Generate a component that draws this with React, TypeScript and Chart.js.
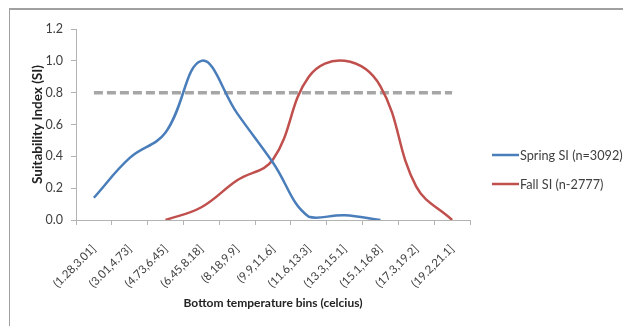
import React, { useEffect, useRef } from "react";
import { Chart, registerables } from "chart.js";

Chart.register(...registerables);

const categories = [
  "(1.28,3.01]",
  "(3.01,4.73]",
  "(4.73,6.45]",
  "(6.45,8.18]",
  "(8.18,9.9]",
  "(9.9,11.6]",
  "(11.6,13.3]",
  "(13.3,15.1]",
  "(15.1,16.8]",
  "(17.3,19.2]",
  "(19.2,21.1]",
];

const springSI = [0.14, 0.39, 0.55, 1.0, 0.67, 0.36, 0.02, 0.03, 0.0, null, null];
const fallSI = [null, null, 0.0, 0.08, 0.25, 0.38, 0.9, 1.0, 0.84, 0.21, 0.0];
const threshold = [0.8, 0.8, 0.8, 0.8, 0.8, 0.8, 0.8, 0.8, 0.8, 0.8, 0.8];

const springLabel = "Spring SI (n=3092)";
const fallLabel = "Fall SI (n-2777)";

const BLUE = "#4a7ebb";
const RED = "#c0504d";
const FONT = "Lato, 'Open Sans', sans-serif";
const TEXT = "#404040";

const legendPlugin = {
  id: "customLegend",
  afterDraw(chart: any) {
    const ctx = chart.ctx;
    const items = [
      { label: springLabel, color: BLUE, y: 155 },
      { label: fallLabel, color: RED, y: 184 },
    ];
    ctx.save();
    ctx.font = `12.7px ${FONT}`;
    ctx.textBaseline = "middle";
    ctx.textAlign = "left";
    for (const it of items) {
      ctx.strokeStyle = it.color;
      ctx.lineWidth = 2.5;
      ctx.beginPath();
      ctx.moveTo(492, it.y);
      ctx.lineTo(519, it.y);
      ctx.stroke();
      ctx.fillStyle = TEXT;
      ctx.fillText(it.label, 520, it.y + 1);
    }
    ctx.restore();
  },
};

export default function App() {
  const ref = useRef<HTMLCanvasElement | null>(null);

  useEffect(() => {
    if (!ref.current) return;
    const chart = new Chart(ref.current, {
      type: "line",
      data: {
        labels: categories,
        datasets: [
          {
            label: springLabel,
            data: springSI,
            borderColor: BLUE,
            backgroundColor: BLUE,
            borderWidth: 2.5,
            pointRadius: 0,
            tension: 0.4,
            spanGaps: false,
          },
          {
            label: fallLabel,
            data: fallSI,
            borderColor: RED,
            backgroundColor: RED,
            borderWidth: 2.5,
            pointRadius: 0,
            tension: 0.4,
          },
          {
            label: "Threshold",
            data: threshold,
            borderColor: "#a6a6a6",
            backgroundColor: "#a6a6a6",
            borderWidth: 3.5,
            borderDash: [9, 4],
            pointRadius: 0,
            tension: 0,
          },
        ],
      },
      options: {
        animation: false,
        responsive: false,
        maintainAspectRatio: false,
        layout: { padding: { left: 10, top: 29, right: 153, bottom: 10 } },
        plugins: {
          legend: { display: false },
          tooltip: { enabled: false },
        },
        scales: {
          x: {
            type: "category",
            offset: true,
            grid: {
              offset: true,
              drawOnChartArea: false,
              drawTicks: true,
              tickLength: 5,
              color: "#b3b3b3",
            },
            border: { color: "#b3b3b3", width: 1 },
            ticks: {
              minRotation: 45,
              maxRotation: 45,
              autoSkip: false,
              padding: 17,
              color: TEXT,
              font: { family: FONT, size: 11.5 },
            },
            title: {
              display: true,
              text: "Bottom temperature bins (celcius)",
              color: "#222",
              font: { family: FONT, size: 12, weight: "bold" },
              padding: { top: 4, bottom: 6 },
            },
            afterFit(scale: any) {
              scale.height = 96;
            },
          },
          y: {
            min: 0,
            max: 1.2,
            grid: {
              drawOnChartArea: false,
              drawTicks: true,
              tickLength: 5,
              color: "#b3b3b3",
            },
            border: { color: "#b3b3b3", width: 1 },
            ticks: {
              stepSize: 0.2,
              padding: 8,
              color: TEXT,
              font: { family: FONT, size: 12.5 },
              callback: (v: any) => Number(v).toFixed(1),
            },
            title: {
              display: true,
              text: "Suitability Index (SI)",
              color: "#222",
              font: { family: FONT, size: 13.5, weight: "bold" },
              padding: { top: 20, bottom: 0 },
            },
            afterFit(scale: any) {
              scale.width = 66;
            },
          },
        },
      },
      plugins: [legendPlugin],
    });
    return () => chart.destroy();
  }, []);

  return (
    <div style={{ position: "fixed", left: 0, top: 0, width: 623, height: 326, background: "#fff", overflow: "hidden" }}>
      <div
        style={{
          position: "absolute",
          left: 9,
          top: 8,
          width: 640,
          height: 340,
          borderLeft: "1px solid #a0a0a0",
          borderTop: "2px solid #a0a0a0",
        }}
      />
      <canvas ref={ref} width={623} height={326} style={{ position: "absolute", left: 0, top: 0 }} />
    </div>
  );
}
